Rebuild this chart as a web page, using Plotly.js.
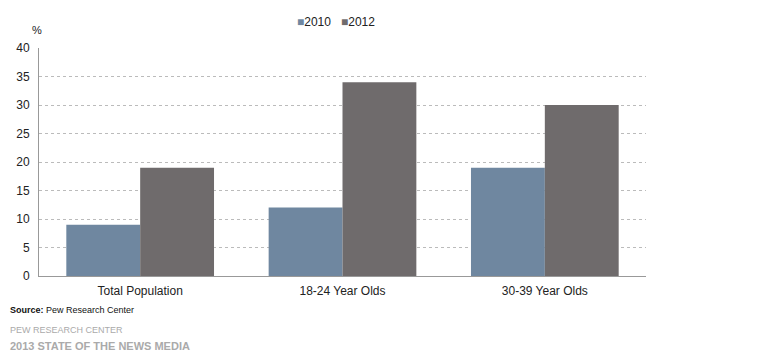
<!DOCTYPE html>
<html>
<head>
<meta charset="utf-8">
<script src="https://cdn.plot.ly/plotly-3.0.1.min.js"></script>
<style>html,body{margin:0;padding:0;background:#fff;}#chart{width:760px;height:357px;}</style>
</head>
<body>
<div id="chart"></div>
<script>
const categories = ["Total Population", "18-24 Year Olds", "30-39 Year Olds"];
const seriesNames = ["2010", "2012"];
const values2010 = [9, 12, 19];
const values2012 = [19, 34, 30];
const yTicks = [0, 5, 10, 15, 20, 25, 30, 35, 40];
const colors = ["#6f87a0", "#6f6b6c"];

const fam = "Liberation Sans, Arial, sans-serif";

const data = [
  {type: "bar", name: seriesNames[0], x: categories, y: values2010, marker: {color: colors[0]}},
  {type: "bar", name: seriesNames[1], x: categories, y: values2012, marker: {color: colors[1]}}
];

const legendText = seriesNames.map((n, i) => `<span style="color:${colors[i]}">■</span>${n}`).join("   ");

const layout = {
  width: 760, height: 357,
  margin: {l: 39, r: 114, t: 48, b: 81, autoexpand: false},
  paper_bgcolor: "#fff", plot_bgcolor: "#fff",
  font: {family: fam, size: 12, color: "#222"},
  barmode: "group",
  bargap: 0.27, bargroupgap: 0,
  showlegend: false,
  xaxis: {showgrid: false, showline: true, linecolor: "#999", linewidth: 1, ticks: "", ticklabelstandoff: 4,
          tickfont: {size: 12, color: "#222"}, fixedrange: true},
  yaxis: {range: [0, 40], tickvals: yTicks, showgrid: true, gridcolor: "#bbb", griddash: "dot", gridwidth: 1,
          showline: true, linecolor: "#999", linewidth: 1, zeroline: false, ticks: "", ticklabelstandoff: 6,
          tickfont: {size: 12, color: "#222"}},
  annotations: [
    {text: legendText, xref: "paper", yref: "paper", x: 0.49, y: 1.115, xanchor: "center", yanchor: "middle", showarrow: false, font: {size: 12, color: "#222"}},
    {text: "%", xref: "paper", yref: "paper", x: -0.003, y: 1.08, xanchor: "center", yanchor: "middle", showarrow: false, font: {size: 11, color: "#222"}},
    {text: "<b>Source:</b> Pew Research Center", xref: "paper", yref: "paper", x: -0.051, xanchor: "left", y: -0.148, yanchor: "middle", showarrow: false, font: {size: 9, color: "#111"}},
    {text: "PEW RESEARCH CENTER", xref: "paper", yref: "paper", x: -0.051, xanchor: "left", y: -0.235, yanchor: "middle", showarrow: false, font: {size: 9, color: "#aaa"}},
    {text: "<b>2013 STATE OF THE NEWS MEDIA</b>", xref: "paper", yref: "paper", x: -0.051, xanchor: "left", y: -0.307, yanchor: "middle", showarrow: false, font: {size: 11, color: "#aaa"}}
  ]
};

Plotly.newPlot("chart", data, layout, {displayModeBar: false, staticPlot: true});
</script>
</body>
</html>
